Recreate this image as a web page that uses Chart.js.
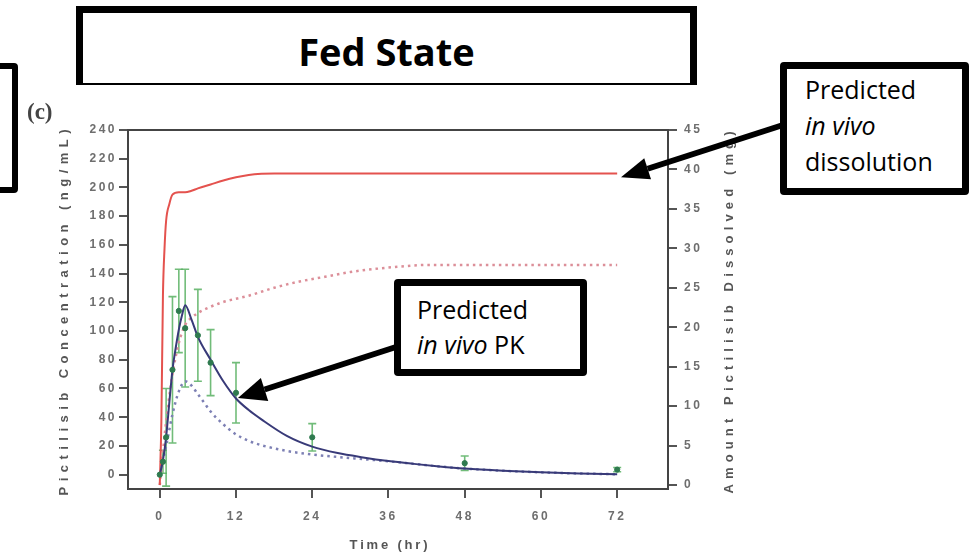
<!DOCTYPE html>
<html>
<head>
  <meta charset="utf-8">
  <title>Fed State</title>
  <script src="https://cdn.jsdelivr.net/npm/chart.js@4"></script>
  <style>
    * {
        margin: 0;
        padding: 0;
        box-sizing: border-box;
    }

    html, body {
        width: 969px;
        height: 558px;
        background: #fff;
        overflow: hidden;
        font-family: "Open Sans", sans-serif;
    }

    #wrap {
        position: relative;
        width: 969px;
        height: 558px;
        overflow: hidden;
    }

    #grafik, #panah {
        position: absolute;
        left: 0;
        top: 0;
    }

    #grafik {
        filter: blur(0.4px);
    }

    .kotak {
        position: absolute;
        background: #fff;
        border: 7px solid #000;
        border-radius: 4px;
        color: #000;
    }

    #kiri {
        left: -20px;
        top: 63px;
        width: 38px;
        height: 130px;
        border-width: 6px;
    }

    #judul {
        left: 76px;
        top: 6px;
        width: 621px;
        height: 79px;
        border-width: 7px 7px 2px 7px;
        border-radius: 0;
        text-align: center;
        font-weight: bold;
        font-size: 38px;
        line-height: 40px;
        padding-top: 18px;
    }

    #pk {
        left: 394px;
        top: 279px;
        width: 193px;
        height: 97px;
        font-size: 25px;
        line-height: 35px;
        padding: 6px 0 0 16px;
    }

    #dis {
        left: 780px;
        top: 62px;
        width: 189px;
        height: 133px;
        font-size: 25px;
        line-height: 36px;
        padding: 2px 0 0 18px;
    }

    #huruf {
        position: absolute;
        left: 27px;
        top: 99px;
        font-family: "Liberation Serif", serif;
        font-weight: bold;
        font-size: 23px;
        color: #444;
        filter: blur(0.4px);
    }
  </style>
</head>
<body>
  <div id="wrap">
    <canvas id="grafik" width="969" height="558"></canvas>
    <canvas id="panah" width="969" height="558"></canvas>
    <div class="kotak" id="kiri"></div>
    <div class="kotak" id="judul">Fed State</div>
    <div class="kotak" id="pk">Predicted<br><i>in vivo</i> PK</div>
    <div class="kotak" id="dis">Predicted<br><i>in vivo</i><br>dissolution</div>
    <div id="huruf">(c)</div>
  </div>
  <script>
    // === 1. Data ===
    // observed plasma concentration (ng/mL), mean and SD
    const obsTime = [0, 0.5, 1, 2, 3, 4, 6, 8, 12, 24, 48, 72];
    const obsMean = [0, 9, 26, 73, 114, 102, 97, 78, 57, 26, 8, 3.5];
    const obsSd   = [0, 8, 34, 51, 29, 41, 32, 23, 21, 9.5, 5, 1.5];

    // predicted PK, solid line (ng/mL)
    const pkTime = [0, 0.5, 1, 1.5, 2, 2.5, 3, 3.5, 4, 5, 6, 8, 10, 12, 14, 16, 20, 24, 28, 32, 36, 40, 44, 48, 54, 60, 66, 72];
    const pkConc = [0, 10, 26, 50, 73, 88, 101, 111, 118, 108, 96, 80, 65, 53, 45, 38.5, 27, 19.5, 15, 12, 9.5, 7.5, 5.7, 4.2, 2.7, 1.6, 0.8, 0.3];

    // predicted PK, dotted line (ng/mL)
    const pk2Time = [0, 1, 2, 3, 4, 5, 6, 7, 8, 10, 12, 14, 16, 20, 24, 28, 32, 36, 40, 44, 48, 54, 60, 66, 72];
    const pk2Conc = [0, 20, 42, 58, 65, 62, 56, 50, 44, 35, 28, 23.5, 20.5, 16.5, 14, 12.3, 10.8, 9.3, 7.5, 5.7, 4.2, 2.7, 1.6, 0.8, 0.3];

    // amount dissolved, solid line (mg)
    const dissTime = [0, 0.25, 0.5, 0.75, 1, 1.5, 2, 3, 4, 5, 6, 8, 10, 12, 14, 16, 18, 72];
    const dissAmount = [0, 8, 24, 30, 33.5, 35.6, 36.8, 37.1, 37.1, 37.3, 37.6, 38.1, 38.6, 39.0, 39.3, 39.45, 39.5, 39.5];

    // amount dissolved, dotted line (mg)
    const diss2Time = [0, 1, 2, 3, 4, 5, 6, 8, 10, 14, 18, 22, 26, 30, 34, 38, 42, 72];
    const diss2Amount = [0, 8, 14, 18, 20.3, 21.2, 21.8, 22.6, 23.2, 24.0, 25.0, 25.8, 26.4, 27.0, 27.4, 27.7, 27.9, 27.9];

    // tick labels
    const timeTicks = [0, 12, 24, 36, 48, 60, 72];
    const concTicks = [0, 20, 40, 60, 80, 100, 120, 140, 160, 180, 200, 220, 240];
    const amountTicks = [0, 5, 10, 15, 20, 25, 30, 35, 40, 45];

    const toPoints = (xs, ys) => xs.map((x, i) => ({ x: x, y: ys[i] }));

    // === 2. Helpers ===
    // text with wide letter spacing, centred on (x, y)
    function spacedText(ctx, text, x, y, targetWidth, angle) {
      ctx.save();
      ctx.letterSpacing = '0px';
      ctx.translate(x, y);
      ctx.rotate(angle);
      const chars = text.split('');
      const widths = chars.map(c => ctx.measureText(c).width);
      const sum = widths.reduce((a, b) => a + b, 0);
      const gap = (targetWidth - sum) / (chars.length - 1);
      ctx.textAlign = 'left';
      ctx.textBaseline = 'middle';
      let pos = -targetWidth / 2;
      chars.forEach((c, i) => {
        ctx.fillText(c, pos, 0);
        pos += widths[i] + gap;
      });
      ctx.restore();
    }

    function drawArrow(c, x1, y1, x2, y2, head, half) {
      const ang = Math.atan2(y2 - y1, x2 - x1);
      const bx = x2 - head * Math.cos(ang);
      const by = y2 - head * Math.sin(ang);
      c.strokeStyle = '#000';
      c.fillStyle = '#000';
      c.lineWidth = 6;
      c.beginPath();
      c.moveTo(x1, y1);
      c.lineTo(bx, by);
      c.stroke();
      c.beginPath();
      c.moveTo(x2, y2);
      c.lineTo(bx + half * Math.sin(ang), by - half * Math.cos(ang));
      c.lineTo(bx - half * Math.sin(ang), by + half * Math.cos(ang));
      c.closePath();
      c.fill();
    }

    // === 3. Plugins ===
    const tickSpacing = {
      id: 'tickSpacing',
      beforeDraw(chart) {
        chart.ctx.letterSpacing = '2.5px';
      }
    };

    // error bars of the observed data
    const errorBars = {
      id: 'errorBars',
      beforeDatasetsDraw(chart) {
        const ctx = chart.ctx;
        const x = chart.scales.x, y = chart.scales.y;
        ctx.save();
        ctx.strokeStyle = 'rgba(88, 176, 98, 0.85)';
        ctx.lineWidth = 1.6;
        obsTime.forEach((t, i) => {
          if (!obsSd[i]) return;
          const px = x.getPixelForValue(t);
          const top = y.getPixelForValue(obsMean[i] + obsSd[i]);
          const bot = y.getPixelForValue(obsMean[i] - obsSd[i]);
          ctx.beginPath();
          ctx.moveTo(px, top); ctx.lineTo(px, bot);
          ctx.moveTo(px - 4, top); ctx.lineTo(px + 4, top);
          ctx.moveTo(px - 4, bot); ctx.lineTo(px + 4, bot);
          ctx.stroke();
        });
        ctx.restore();
      }
    };

    // frame top line and the three axis titles
    const frameAndTitles = {
      id: 'frameAndTitles',
      afterDraw(chart) {
        const ctx = chart.ctx;
        const a = chart.chartArea;
        ctx.save();
        ctx.strokeStyle = '#444';
        ctx.lineWidth = 2;
        ctx.beginPath();
        ctx.moveTo(a.left, a.top);
        ctx.lineTo(a.right, a.top);
        ctx.stroke();

        ctx.fillStyle = '#555';
        ctx.font = 'bold 13px "Liberation Sans", Arial, sans-serif';
        const midY = (a.top + a.bottom) / 2 + 3;
        spacedText(ctx, 'Pictilisib Concentration (ng/mL)', 64, midY, 366, -Math.PI / 2);
        spacedText(ctx, 'Amount Pictilisib Dissolved (mg)', 729, midY, 362, -Math.PI / 2);
        const xs = chart.scales.x;
        const midX = (xs.getPixelForValue(timeTicks[0]) + xs.getPixelForValue(timeTicks[timeTicks.length - 1])) / 2;
        spacedText(ctx, 'Time (hr)', midX, 545, 78, 0);
        ctx.restore();

        // annotation arrows on their own layer
        const p = document.getElementById('panah').getContext('2d');
        p.clearRect(0, 0, 969, 558);
        const yR = chart.scales.y2, yL = chart.scales.y;
        drawArrow(p, 783, 125, xs.getPixelForValue(72.6), yR.getPixelForValue(39.0), 28, 11);
        drawArrow(p, 396, 347, xs.getPixelForValue(12.3), yL.getPixelForValue(53.3), 28, 12);
      }
    };

    // === 4. Chart ===
    const tickFont = { family: '"Liberation Sans", Arial, sans-serif', size: 12, weight: 'bold' };

    const chart = new Chart(document.getElementById('grafik').getContext('2d'), {
      type: 'line',
      data: {
        datasets: [
          {
            label: 'Observed',
            data: toPoints(obsTime, obsMean),
            yAxisID: 'y',
            showLine: false,
            pointRadius: 2.6,
            pointBackgroundColor: '#2f7a4f',
            pointBorderColor: '#2f7a4f'
          },
          {
            label: 'Predicted PK',
            data: toPoints(pkTime, pkConc),
            yAxisID: 'y',
            borderColor: '#383a78',
            borderWidth: 2,
            pointRadius: 0,
            cubicInterpolationMode: 'monotone'
          },
          {
            label: 'Predicted PK (dotted)',
            data: toPoints(pk2Time, pk2Conc),
            yAxisID: 'y',
            borderColor: '#7d80b4',
            borderWidth: 2.5,
            borderDash: [2.5, 4],
            pointRadius: 0,
            cubicInterpolationMode: 'monotone'
          },
          {
            label: 'Dissolution',
            data: toPoints(dissTime, dissAmount),
            yAxisID: 'y2',
            borderColor: '#e4524e',
            borderWidth: 2,
            pointRadius: 0,
            cubicInterpolationMode: 'monotone'
          },
          {
            label: 'Dissolution (dotted)',
            data: toPoints(diss2Time, diss2Amount),
            yAxisID: 'y2',
            borderColor: '#dc8f99',
            borderWidth: 2.5,
            borderDash: [2.5, 4],
            pointRadius: 0,
            cubicInterpolationMode: 'monotone'
          }
        ]
      },
      options: {
        responsive: false,
        animation: false,
        layout: { padding: { top: 130, left: 0, right: 0, bottom: 0 } },
        plugins: {
          legend: { display: false },
          tooltip: { enabled: false }
        },
        scales: {
          x: {
            type: 'linear',
            min: -5,
            max: 80,
            afterBuildTicks: s => { s.ticks = timeTicks.map(v => ({ value: v })); },
            afterFit: s => { s.height = 69; },
            grid: { drawOnChartArea: false, tickLength: 9, color: '#555', lineWidth: 2 },
            border: { color: '#444', width: 2 },
            ticks: { color: '#6e6e6e', font: tickFont, padding: 11, maxRotation: 0 }
          },
          y: {
            type: 'linear',
            position: 'left',
            min: -10,
            max: 240,
            afterBuildTicks: s => { s.ticks = concTicks.map(v => ({ value: v })); },
            afterFit: s => { s.width = 128; },
            grid: { drawOnChartArea: false, tickLength: 9, color: '#555', lineWidth: 2 },
            border: { color: '#444', width: 2 },
            ticks: { color: '#6e6e6e', font: tickFont, padding: 2 }
          },
          y2: {
            type: 'linear',
            position: 'right',
            min: -0.5,
            max: 45,
            afterBuildTicks: s => { s.ticks = amountTicks.map(v => ({ value: v })); },
            afterFit: s => { s.width = 301; },
            grid: { drawOnChartArea: false, tickLength: 9, color: '#555', lineWidth: 2 },
            border: { color: '#444', width: 2 },
            ticks: { color: '#6e6e6e', font: tickFont, padding: 7 }
          }
        }
      },
      plugins: [tickSpacing, errorBars, frameAndTitles]
    });
  </script>
</body>
</html>
